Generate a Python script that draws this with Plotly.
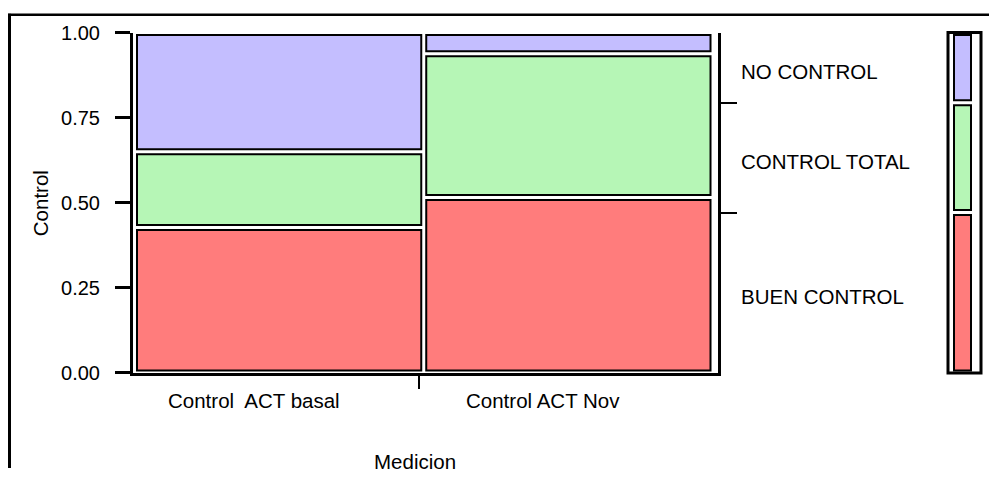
import plotly.graph_objects as go

# ---------------- data ----------------
mediciones = ["Control  ACT basal", "Control ACT Nov"]
col_weights = [0.5, 0.5]                      # share of observations per Medicion
niveles = ["BUEN CONTROL", "CONTROL TOTAL", "NO CONTROL"]
prop_basal = [0.427, 0.223, 0.350]            # proportions within Control ACT basal
prop_nov = [0.515, 0.423, 0.062]              # proportions within Control ACT Nov
colores = ["#FF7C7C", "#B6F6B6", "#C4BEFF"]
y_ticks = [0, 0.25, 0.5, 0.75, 1.0]
y_ticktext = ["0.00", "0.25", "0.50", "0.75", "1.00"]

# ---------------- layout helpers ----------------
W, H = 989, 479
FONT = "Liberation Sans, Arial, sans-serif"
FS = 20.5
Y0, YS = 10.4, 457.9   # observed vertical placement of the page in the snapshot

def px_x(p):
    return p / W

def px_y(p):
    return 1 - (p - Y0) / YS

props = [prop_basal, prop_nov]
col_left = [sum(col_weights[:i]) for i in range(len(col_weights))]
col_center = [l + w / 2 for l, w in zip(col_left, col_weights)]
marginal = [sum(col_weights[j] * props[j][i] for j in range(len(props)))
            for i in range(len(niveles))]

gx = 0.0086   # gap between cells (x data units)
gy = 0.0147   # gap between cells (y data units)

fig = go.Figure()

# mosaic cells
for i, (nivel, color) in enumerate(zip(niveles, colores)):
    bases, heights = [], []
    for j in range(len(props)):
        lo = sum(props[j][:i])
        bases.append(lo + gy / 2)
        heights.append(props[j][i] - gy)
    fig.add_trace(go.Bar(
        x=col_center, y=heights, base=bases,
        width=[w - gx for w in col_weights],
        marker=dict(color=color, line=dict(color="black", width=2)),
        name=nivel, showlegend=False, hoverinfo="skip",
        xaxis="x", yaxis="y",
    ))

# marginal bar (legend bar on the right)
for i, (nivel, color) in enumerate(zip(niveles, colores)):
    lo = sum(marginal[:i])
    fig.add_trace(go.Bar(
        x=[0], y=[marginal[i] - gy], base=[lo + gy / 2], width=[1],
        marker=dict(color=color, line=dict(color="black", width=2)),
        showlegend=False, hoverinfo="skip", xaxis="x2", yaxis="y",
    ))

# x axis pixel geometry
x_dom = [px_x(133), px_x(718)]
ppu = 713 - 134.5
x_range = [-(134.5 - 133) / ppu, 1 + (718 - 713) / ppu]
boundary_tick = col_left[1] - 5 / ppu

y_dom = [px_y(373), px_y(32)]

fig.update_layout(
    width=W, height=H,
    margin=dict(l=0, r=0, t=0, b=0, pad=0),
    paper_bgcolor="white", plot_bgcolor="white",
    barmode="overlay",
    font=dict(family=FONT, size=FS, color="black"),
    xaxis=dict(domain=x_dom, range=x_range, showgrid=False, zeroline=False,
               showline=True, linecolor="black", linewidth=3,
               tickmode="array", tickvals=[boundary_tick], ticktext=[""],
               ticks="outside", ticklen=13, tickwidth=2, tickcolor="black",
               fixedrange=True),
    yaxis=dict(domain=y_dom, range=[0, 1], showgrid=False, zeroline=False,
               showline=True, linecolor="black", linewidth=3,
               tickmode="array", tickvals=y_ticks, ticktext=y_ticktext,
               ticks="outside", ticklen=15, tickwidth=2.5, tickcolor="black",
               ticklabelstandoff=11,
               tickfont=dict(family=FONT, size=20), fixedrange=True),
    yaxis2=dict(domain=y_dom, range=[0, 1], overlaying="y", side="right",
                anchor="x", showgrid=False, zeroline=False,
                showline=True, linecolor="black", linewidth=3,
                tickmode="array",
                tickvals=[sum(marginal[:1]), sum(marginal[:2])],
                showticklabels=False,
                ticks="outside", ticklen=16, tickwidth=2, tickcolor="black",
                fixedrange=True),
    xaxis2=dict(domain=[px_x(948), px_x(981)],
                range=[-0.5 - 6 / 17, 0.5 + 10 / 17],
                anchor="y", visible=False, fixedrange=True),
)

# dummy trace so yaxis2 is drawn
fig.add_trace(go.Scatter(x=[None], y=[None], xaxis="x", yaxis="y2",
                         showlegend=False, hoverinfo="skip"))

shapes = [
    # frame around marginal bar
    dict(type="rect", xref="x2 domain", yref="y domain", x0=0, x1=1, y0=0, y1=1,
         line=dict(color="black", width=3), fillcolor="rgba(0,0,0,0)"),
    # outer report frame
    dict(type="line", xref="paper", yref="paper",
         x0=px_x(8), x1=1, y0=1 - 4 / H, y1=1 - 4 / H,
         line=dict(color="black", width=2.5)),
    dict(type="line", xref="paper", yref="paper",
         x0=px_x(9.5), x1=px_x(9.5), y0=0, y1=1 - 3 / H,
         line=dict(color="black", width=3)),
]
fig.update_layout(shapes=shapes)

annotations = []
# category labels
for c, name in zip(col_center, mediciones):
    annotations.append(dict(x=c, y=px_y(401), xref="x", yref="paper", text=name,
                            showarrow=False, xanchor="center", yanchor="middle",
                            xshift=-25, font=dict(family=FONT, size=FS)))
# axis titles
annotations.append(dict(x=px_x(415), y=px_y(462), xref="paper", yref="paper",
                        text="Medicion", showarrow=False,
                        xanchor="center", yanchor="middle",
                        font=dict(family=FONT, size=FS)))
annotations.append(dict(x=px_x(40), y=px_y(203), xref="paper", yref="paper",
                        text="Control", showarrow=False, textangle=-90,
                        xanchor="center", yanchor="middle",
                        font=dict(family=FONT, size=FS)))
# level labels on the right
for i, nivel in enumerate(niveles):
    mid = sum(marginal[:i]) + marginal[i] / 2
    annotations.append(dict(x=px_x(739), y=mid, xref="paper", yref="y",
                            text=nivel, showarrow=False, xanchor="left",
                            yanchor="middle", yshift=-4,
                            font=dict(family=FONT, size=FS)))
fig.update_layout(annotations=annotations)

fig.write_html(
    "out.html",
    config={"displayModeBar": False},
    post_script=(
        "document.body.style.margin='0';"
        "document.body.style.overflow='hidden';"
        "document.documentElement.style.overflow='hidden';"
    ),
)
